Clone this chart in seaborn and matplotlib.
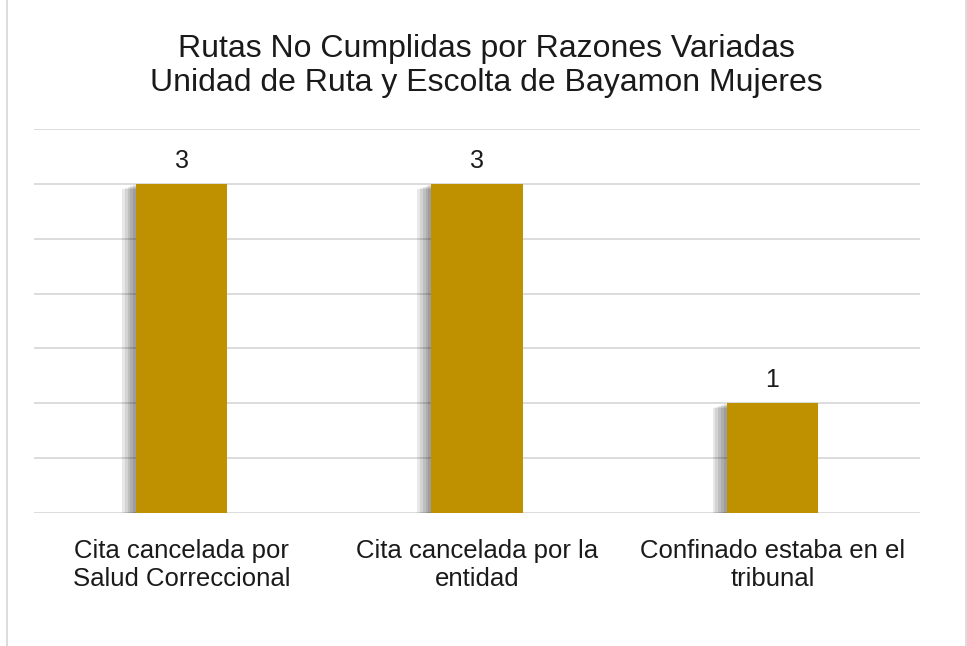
import pandas as pd
import matplotlib.pyplot as plt
import matplotlib.patheffects as pe
from matplotlib.patches import Rectangle
import seaborn as sns

# Datos del grafico
razones = ['Cita cancelada por\nSalud Correccional',
           'Cita cancelada por la\nentidad',
           'Confinado estaba en el\ntribunal']
rutas = [3, 3, 1]

df = pd.DataFrame({'Razon': razones, 'Rutas': rutas})

sns.set_style("white")
plt.rcParams['font.family'] = ['Liberation Sans', 'DejaVu Sans']

fig = plt.figure(figsize=(9.67, 6.46), dpi=100)
ax = fig.add_axes([0.0352, 0.206, 0.9162, 0.594])

sns.barplot(x='Razon', y='Rutas', data=df, color='#BF9000', width=0.31,
            saturation=1, linewidth=0, ax=ax, zorder=3)

# sombra suave a la izquierda de las barras
sombra = [pe.SimplePatchShadow(offset=(-d, -d / 3), shadow_rgbFace='#000000', alpha=0.09)
          for d in (10, 8, 6, 4, 2)]
for bar in ax.patches:
    bar.set_path_effects(sombra + [pe.Normal()])

for i, v in enumerate(rutas):
    ax.text(i, v + 0.1, str(v), ha='center', va='bottom', fontsize=18, color='#1a1a1a')

ax.set_ylim(0, 3.5)
ax.set_xlim(-0.5, 2.5)
ax.set_yticks([0, 0.5, 1, 1.5, 2, 2.5, 3, 3.5])
ax.set_yticklabels([])
ax.yaxis.grid(True, color='#D9D9D9', linewidth=1.3, zorder=0)
ax.set_axisbelow(True)
ax.tick_params(axis='x', length=0, labelsize=18.5, pad=19, labelcolor='#1a1a1a')
for lbl in ax.get_xticklabels():
    lbl.set_linespacing(1.2)
ax.tick_params(axis='y', length=0)
ax.set_xlabel('')
ax.set_ylabel('')
for s in ax.spines.values():
    s.set_visible(False)

fig.text(0.503, 0.898, 'Rutas No Cumplidas por Razones Variadas\nUnidad de Ruta y Escolta de Bayamon Mujeres',
         ha='center', va='center', fontsize=23, linespacing=1.2, color='#1a1a1a')

fig.patches.append(Rectangle((0.0072, -0.01), 0.992, 1.02, transform=fig.transFigure,
                             fill=False, edgecolor='#D9D9D9', linewidth=1.3))

plt.savefig('out.png', dpi=100)
